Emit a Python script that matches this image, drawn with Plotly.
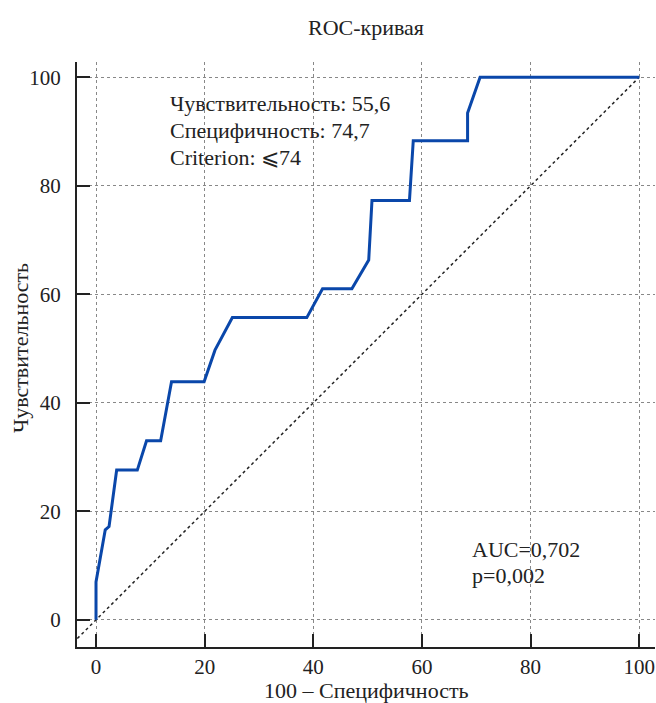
import plotly.graph_objects as go

# ROC curve points (100 - specificity, sensitivity)
fpr = [0, 0, 1.7, 2.4, 3.8, 7.6, 9.3, 11.9, 13.9, 19.9, 21.9, 25.1, 38.8, 41.7,
       47.1, 50.2, 50.8, 57.7, 58.4, 68.4, 68.4, 70.7, 100]
tpr = [0, 7.0, 16.6, 17.2, 27.6, 27.6, 33.0, 33.0, 43.9, 43.9, 49.7, 55.7, 55.7,
       61.0, 61.0, 66.3, 77.3, 77.3, 88.3, 88.3, 93.4, 100, 100]
diag = [-5, 100]
ticks = [0, 20, 40, 60, 80, 100]

info_lines = ["Чувствительность: 55,6", "Специфичность: 74,7", "Criterion: \u2a7d74"]
info_y = [95.2, 90.2, 85.2]
auc_lines = ["AUC=0,702", "p=0,002"]
auc_y = [12.9, 8.1]

FONT = "Liberation Serif, Times New Roman, serif"
TXT = 22
TICK = 21
COL = "#222"

fig = go.Figure()
fig.add_trace(go.Scatter(x=diag, y=diag, mode="lines",
                         line=dict(color="#222222", width=1.5, dash="dot"),
                         hoverinfo="skip", showlegend=False))
fig.add_trace(go.Scatter(x=fpr, y=tpr, mode="lines",
                         line=dict(color="#0A47AA", width=3),
                         showlegend=False))

for t, y in zip(info_lines, info_y):
    fig.add_annotation(x=13.3, y=y, text=t, showarrow=False, xanchor="left",
                       yanchor="middle", font=dict(family=FONT, size=TXT, color=COL))
for t, y in zip(auc_lines, auc_y):
    fig.add_annotation(x=68.9, y=y, text=t, showarrow=False, xanchor="left",
                       yanchor="middle", font=dict(family=FONT, size=TXT, color=COL))

# axis titles
fig.add_annotation(xref="paper", yref="paper", x=0.5, y=0, yshift=-43,
                   text="100 \u2013 Специфичность", showarrow=False,
                   xanchor="center", yanchor="middle",
                   font=dict(family=FONT, size=TXT, color=COL))
fig.add_annotation(xref="paper", yref="paper", x=0, y=0.511, xshift=-57,
                   text="Чувствительность", showarrow=False, textangle=-90,
                   xanchor="center", yanchor="middle",
                   font=dict(family=FONT, size=TXT, color=COL))

axis_common = dict(
    tickvals=ticks, ticks="inside", ticklen=13, tickwidth=1.5, tickcolor=COL,
    showline=True, linecolor=COL, linewidth=2, automargin=False,
    showgrid=True, gridcolor="#888", griddash="dot", gridwidth=1,
    zeroline=False, tickfont=dict(family=FONT, size=TICK, color=COL),
)

fig.update_layout(
    width=656, height=703,
    margin=dict(l=77, r=1, t=62, b=56),
    paper_bgcolor="white", plot_bgcolor="white",
    font=dict(family=FONT, size=TXT, color=COL),
    title=dict(text="ROC-кривая", x=0.5, xref="paper", xanchor="center",
               y=1 - 27 / 703, yanchor="middle", automargin=False,
               font=dict(family=FONT, size=TXT, color=COL)),
    xaxis=dict(range=[-3.5, 102.9], ticklabelstandoff=0, **axis_common),
    yaxis=dict(range=[-5.0, 102.8], ticklabelstandoff=10, **axis_common),
)

fig.write_html("out.html", config={"displayModeBar": False},
               post_script="document.body.style.margin='0';document.body.style.overflow='hidden';")
